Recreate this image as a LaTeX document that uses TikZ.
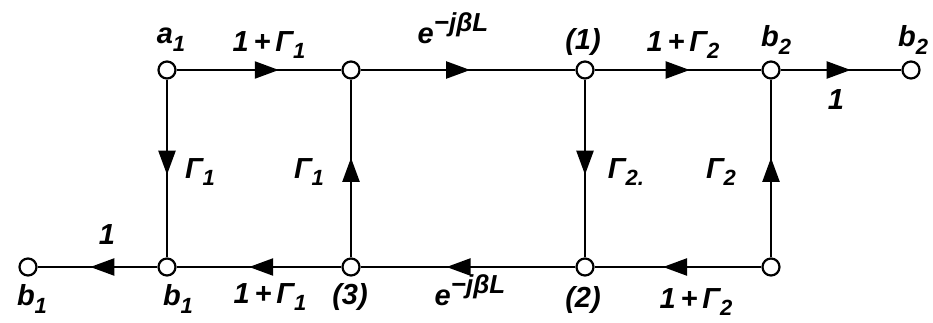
\documentclass[tikz,border=0pt]{standalone}
\usepackage{fontspec}
\setmainfont{Liberation Sans}
\usetikzlibrary{arrows.meta,decorations.markings}
\newcommand{\sbs}[1]{\raisebox{-0.5ex}{\fontsize{22}{22}\selectfont #1}}
\newcommand{\sps}[1]{\raisebox{0.75ex}{\fontsize{26}{26}\selectfont #1}}
\begin{document}
\begin{tikzpicture}[x=1pt,y=-1pt,
  lbl/.style={font=\fontsize{29}{30}\selectfont\bfseries\itshape, inner sep=0pt},
  dot/.style={circle, draw, line width=2.2pt, minimum size=17pt, inner sep=0pt, fill=white},
  edge/.style={line width=2.2pt},
  fl/.style={edge, postaction={decorate}, decoration={markings, mark=at position #1 with {\arrow{Triangle[length=24pt,width=17pt]}}}}]
\useasboundingbox (0,0) rectangle (933,323);
% nodes
\node[dot] (a1) at (167,70) {};
\node[dot] (t2) at (351,70) {};
\node[dot] (t3) at (585,70) {};
\node[dot] (t4) at (771,70) {};
\node[dot] (t5) at (911,70) {};
\node[dot] (bl) at (28,267) {};
\node[dot] (b1) at (167,267) {};
\node[dot] (b3) at (351,267) {};
\node[dot] (b2) at (585,267) {};
\node[dot] (b4) at (771,267) {};
% edges
\draw[fl=0.62] (a1) -- (t2);
\draw[fl=0.51] (t2) -- (t3);
\draw[fl=0.57] (t3) -- (t4);
\draw[fl=0.58] (t4) -- (t5);
\draw[fl=0.56] (b1) -- (bl);
\draw[fl=0.56] (b3) -- (b1);
\draw[fl=0.60] (b2) -- (b3);
\draw[fl=0.59] (b4) -- (b2);
\draw[fl=0.535] (a1) -- (b1);
\draw[fl=0.56] (b3) -- (t2);
\draw[fl=0.535] (t3) -- (b2);
\draw[fl=0.56] (b4) -- (t4);
% labels
\node[lbl] (la1) at (171,40) {a\sbs{1}};
\node[lbl] (lt1) at (269,45) {1\,+\,Γ\sbs{1}};
\node[lbl] (lt2) at (453,28) {e\sps{−jβL}};
\node[lbl] (lt3) at (583,42) {(1)};
\node[lbl] (lt4) at (683,45) {1\,+\,Γ\sbs{2}};
\node[lbl] (lt5) at (776,40) {b\sbs{2}};
\node[lbl] (lt6) at (913,40) {b\sbs{2}};
\node[lbl] (lt7) at (836,100) {1};
\node[lbl] (lv1) at (200,172) {Γ\sbs{1}};
\node[lbl] (lv2) at (309,172) {Γ\sbs{1}};
\node[lbl] (lv3) at (626,172) {Γ\sbs{2.}};
\node[lbl] (lv4) at (721,172) {Γ\sbs{2}};
\node[lbl] (lb1) at (107,235) {1};
\node[lbl] (lb2) at (32,299) {b\sbs{1}};
\node[lbl] (lb3) at (178,299) {b\sbs{1}};
\node[lbl] (lb4) at (270,297) {1\,+\,Γ\sbs{1}};
\node[lbl] (lb5) at (350,297) {(3)};
\node[lbl] (lb6) at (470,290) {e\sps{−jβL}};
\node[lbl] (lb7) at (583,300) {(2)};
\node[lbl] (lb8) at (696,302) {1\,+\,Γ\sbs{2}};
\end{tikzpicture}
\end{document}
